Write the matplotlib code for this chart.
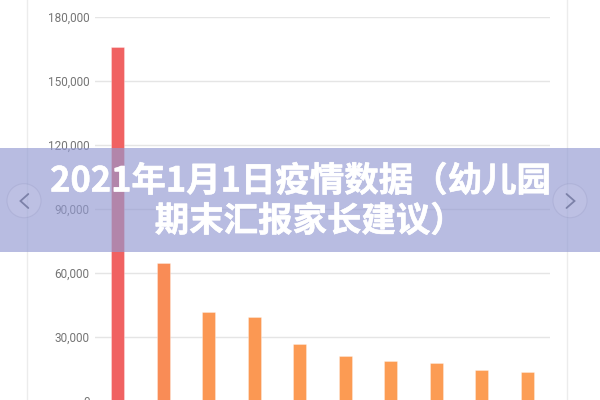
import matplotlib
matplotlib.use("Agg")
import matplotlib.pyplot as plt
from matplotlib.patches import Rectangle, Circle
from matplotlib.lines import Line2D
from matplotlib.ticker import FuncFormatter
import matplotlib.patheffects as pe

# ---- data ----
categories = ["1", "2", "3", "4", "5", "6", "7", "8", "9", "10"]
values = [165900, 64400, 41700, 39100, 26800, 20900, 18600, 17700, 14500, 13600]
bar_colors = ["#F06262", "#F98C56", "#FB9753", "#FB9853", "#FC9A53",
              "#FC9B53", "#FC9C53", "#FC9C54", "#FC9D54", "#FC9E55"]
y_ticks = [0, 30000, 60000, 90000, 120000, 150000, 180000]
title_line1 = "2021年1月1日疫情数据（幼儿园"
title_line2 = "期末汇报家长建议）"

W, H = 600, 400
fig = plt.figure(figsize=(W / 100, H / 100), dpi=100)
fig.patch.set_facecolor("white")

# card frame lines (background layer)
bg = fig.add_axes([0, 0, 1, 1], zorder=0)
bg.set_xlim(0, W)
bg.set_ylim(H, 0)
bg.axis("off")
bg.add_line(Line2D([27, 27], [0, H], color="#ececec", lw=1))
bg.add_line(Line2D([567, 567], [0, H], color="#ececec", lw=1))

# main chart
ax = fig.add_axes([95 / W, -0.7 / H, (550 - 95) / W, (400.7 - 16.7) / H], zorder=1)
ax.patch.set_alpha(0)
x = list(range(len(categories)))
ax.bar(x, values, width=0.29, color=bar_colors, zorder=3,
       edgecolor=(1, 1, 1, 0.35), linewidth=0.6)
ax.set_xlim(-0.5, len(categories) - 0.5)
ax.set_ylim(0, 180000)
ax.set_yticks(y_ticks)
ax.yaxis.set_major_formatter(FuncFormatter(lambda v, p: f"{int(v):,}"))
ax.grid(axis="y", color="#e5e5e5", linewidth=1, zorder=0)
ax.set_xticks(x)
ax.set_xticklabels(categories)
ax.tick_params(axis="x", labelbottom=False, length=0)
ax.tick_params(axis="y", length=0, pad=4, labelsize=8.5, labelcolor="#757575")
for lab in ax.get_yticklabels():
    lab.set_fontfamily(["Roboto", "DejaVu Sans"])
for s in ax.spines.values():
    s.set_visible(False)

# overlay banner and navigation
ov = fig.add_axes([0, 0, 1, 1], zorder=5)
ov.set_xlim(0, W)
ov.set_ylim(H, 0)
ov.axis("off")
ov.add_patch(Rectangle((0, 148), W, 104, facecolor=(146 / 255, 153 / 255, 210 / 255),
                       alpha=0.65, edgecolor="none"))
for cx in (24, 570):
    ov.add_patch(Circle((cx, 200.7), 17, facecolor=(1, 1, 1, 0.07),
                        edgecolor=(0.4, 0.4, 0.6, 0.12), lw=0.8))
ov.add_line(Line2D([28.3, 20.5, 28.3], [194, 201, 208], color="#7c81a8", lw=1.3,
                   solid_capstyle="round", solid_joinstyle="miter"))
ov.add_line(Line2D([566.5, 574.5, 566.5], [194, 201, 208], color="#7c81a8", lw=1.3,
                   solid_capstyle="round", solid_joinstyle="miter"))

fam = ["Noto Sans CJK SC", "DejaVu Sans"]
stroke = [pe.withStroke(linewidth=0.4, foreground="white")]
ov.text(301, 181, title_line1, ha="center", va="center", color="white",
        fontsize=24.8, fontweight="bold", family=fam, path_effects=stroke)
ov.text(310, 221, title_line2, ha="center", va="center", color="white",
        fontsize=24.8, fontweight="bold", family=fam, path_effects=stroke)

fig.savefig("out.png", dpi=100, facecolor="white")
